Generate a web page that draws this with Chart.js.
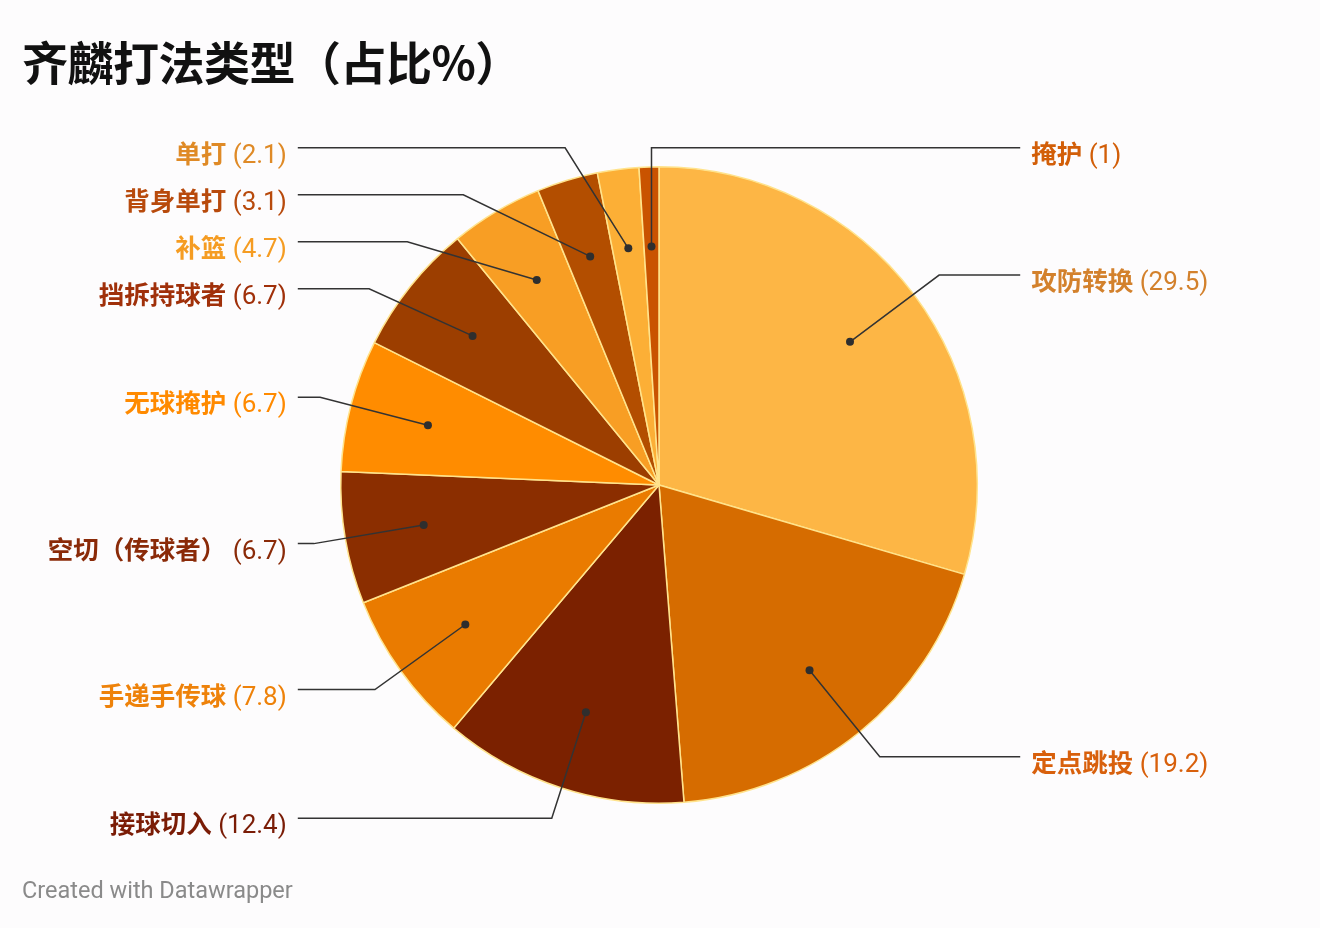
<!DOCTYPE html>
<html>
<head>
<meta charset="utf-8">
<script src="https://cdn.jsdelivr.net/npm/chart.js@4/dist/chart.umd.min.js"></script>
<style>
  html, body { margin: 0; padding: 0; background: #fdfcfd; }
  #wrap { position: relative; width: 1320px; height: 928px; }
  h1 {
    position: absolute; left: 22px; top: 27px; margin: 0;
    font-family: "Noto Sans CJK SC", "Noto Sans", sans-serif;
    font-size: 46px; font-weight: 700; color: #111; letter-spacing: -0.5px;
  }
  #credit {
    position: absolute; left: 22px; top: 876px;
    font-family: Roboto, "Noto Sans", sans-serif;
    font-size: 23.5px; color: #8a8a8a;
  }
  #grafica { position: absolute; left: 0; top: 0; width: 1320px; height: 928px; }
</style>
</head>
<body>
<div id="wrap">
  <div id="grafica"><canvas id="myChart" width="1320" height="928"></canvas></div>
  <h1>齐麟打法类型（占比%）</h1>
  <div id="credit">Created with Datawrapper</div>
</div>
<script>
const categorias = ["攻防转换", "定点跳投", "接球切入", "手递手传球", "空切（传球者）", "无球掩护", "挡拆持球者", "补篮", "背身单打", "单打", "掩护"]
const valores = [29.5, 19.2, 12.4, 7.8, 6.7, 6.7, 6.7, 4.7, 3.1, 2.1, 1]
const colores = ["#fdb645", "#d66c00", "#7b2100", "#ea7b00", "#8b2e00", "#ff8c00", "#9c3e00", "#f89e24", "#b34e00", "#fcaf36", "#c95300"]
const colores_texto = ["#d3812c", "#d8600c", "#7a1c06", "#ee820a", "#8a2a08", "#ff8a00", "#a0300a", "#f59c22", "#b84a0c", "#df8a26", "#d25e08"]

// etiquetas con linea guia, estilo datawrapper
const etiquetas = {
    id: "etiquetas",
    afterDraw(chart) {
        const ctx = chart.ctx
        const arcs = chart.getDatasetMeta(0).data
        if (!arcs.length) return
        const cx = arcs[0].x
        const cy = arcs[0].y
        const r = arcs[0].outerRadius
        const R = r * 1.1
        const minY = cy - r - 19
        const gap = 47

        let items = arcs.map((arc, i) => {
            const mid = (arc.startAngle + arc.endAngle) / 2
            const lado = Math.cos(mid) < -0.05 ? -1 : 1
            return {
                i, mid, lado,
                dx: cx + Math.cos(mid) * r * 0.75,
                dy: cy + Math.sin(mid) * r * 0.75,
                y: cy + Math.sin(mid) * R
            }
        })

        for (const lado of [-1, 1]) {
            const grupo = items.filter(it => it.lado === lado).sort((a, b) => a.y - b.y)
            let prev = -Infinity
            for (const it of grupo) {
                it.y = Math.max(it.y, prev + gap, minY)
                prev = it.y
            }
        }

        ctx.save()
        for (const it of items) {
            const dyy = it.y - cy
            const propio = Math.cos(it.mid) < 0 ? -1 : 1
            let ex
            if (propio === it.lado && Math.abs(dyy) < R) {
                ex = cx + it.lado * Math.sqrt(R * R - dyy * dyy)
            } else {
                ex = it.dx
            }
            const finX = cx + it.lado * r * 1.135

            ctx.strokeStyle = "#333"
            ctx.lineWidth = 1.5
            ctx.beginPath()
            ctx.moveTo(it.dx, it.dy)
            ctx.lineTo(ex, it.y)
            ctx.lineTo(finX, it.y)
            ctx.stroke()

            ctx.fillStyle = "#2e2e2e"
            ctx.beginPath()
            ctx.arc(it.dx, it.dy, 4, 0, Math.PI * 2)
            ctx.fill()

            const nombre = categorias[it.i]
            const valor = " (" + valores[it.i] + ")"
            const fNombre = "bold 25.5px 'Noto Sans CJK SC', Roboto, sans-serif"
            const fValor = "26px Roboto, 'Noto Sans CJK SC', sans-serif"
            ctx.font = fNombre
            const wN = ctx.measureText(nombre).width
            ctx.font = fValor
            const wV = ctx.measureText(valor).width
            const ty = it.y + 15
            let tx = it.lado < 0 ? finX - 11 - wN - wV : finX + 11
            ctx.textBaseline = "alphabetic"
            ctx.textAlign = "left"
            ctx.fillStyle = colores_texto[it.i]
            ctx.font = fNombre
            ctx.fillText(nombre, tx, ty)
            ctx.font = fValor
            ctx.fillText(valor, tx + wN, ty)
        }
        ctx.restore()
    }
}

const config = {
    type: "pie",
    data: {
        labels: categorias,
        datasets: [{
            data: valores,
            backgroundColor: colores,
            borderColor: "#ffe38c",
            borderWidth: 1.5
        }]
    },
    options: {
        responsive: false,
        animation: false,
        layout: { padding: { top: 166, bottom: 124, left: 340, right: 342 } },
        plugins: {
            legend: { display: false },
            tooltip: { enabled: false }
        }
    },
    plugins: [etiquetas]
}

const chart = new Chart(document.getElementById("myChart"), config)
</script>
</body>
</html>
